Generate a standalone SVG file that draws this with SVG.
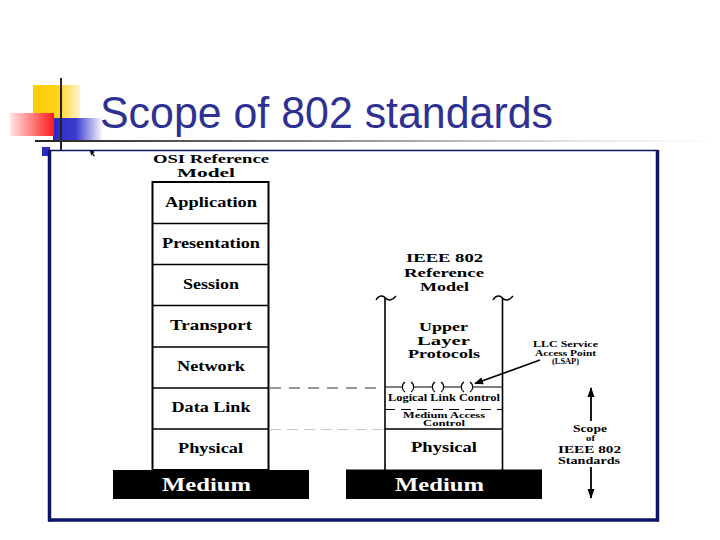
<svg xmlns="http://www.w3.org/2000/svg" width="720" height="540" viewBox="0 0 720 540">
  <defs>
    <linearGradient id="gYellow" x1="0" y1="0" x2="1" y2="0">
      <stop offset="0" stop-color="#ffcc00"/>
      <stop offset="0.5" stop-color="#ffd21a"/>
      <stop offset="1" stop-color="#fff4cc"/>
    </linearGradient>
    <linearGradient id="gRed" x1="0" y1="0" x2="1" y2="0">
      <stop offset="0" stop-color="#ffe4e4"/>
      <stop offset="1" stop-color="#ff1a1a"/>
    </linearGradient>
    <linearGradient id="gBlue" x1="0" y1="0" x2="1" y2="0">
      <stop offset="0" stop-color="#2a2ac0"/>
      <stop offset="0.45" stop-color="#3b3bd0"/>
      <stop offset="1" stop-color="#ffffff"/>
    </linearGradient>
    <linearGradient id="gRule" x1="0" y1="0" x2="1" y2="0">
      <stop offset="0" stop-color="#222222"/>
      <stop offset="0.35" stop-color="#777777"/>
      <stop offset="0.8" stop-color="#e6e6e6"/>
      <stop offset="1" stop-color="#ffffff"/>
    </linearGradient>
    <marker id="arrowHead" viewBox="0 0 10 10" refX="9" refY="5" markerWidth="9" markerHeight="9" markerUnits="userSpaceOnUse" orient="auto">
      <path d="M0,1 L10,5 L0,9 Z" fill="#000"/>
    </marker>
    <marker id="arrowHeadV" viewBox="0 0 10 10" refX="9" refY="5" markerWidth="10" markerHeight="10" markerUnits="userSpaceOnUse" orient="auto">
      <path d="M0,1.5 L10,5 L0,8.5 Z" fill="#000"/>
    </marker>
  </defs>
  <style>
    .lbl { font-family: "Liberation Serif", "Times New Roman", serif; font-weight: bold; fill: #000; text-anchor: middle; }
    .med { font-family: "Liberation Serif", "Times New Roman", serif; font-weight: bold; fill: #fff; text-anchor: middle; font-size: 19px; }
    .box { fill: #fff; stroke: #000; stroke-width: 2; }
    .sep { stroke: #000; stroke-width: 1.6; }
    .bar { fill: #000; }
    .frame { stroke: #0c1464; fill: none; }
  </style>

  <rect x="0" y="0" width="720" height="540" fill="#ffffff"/>

  <!-- logo -->
  <g id="logo">
    <rect x="33" y="85" width="47" height="34" fill="url(#gYellow)"/>
    <rect x="53" y="118" width="50" height="23" fill="url(#gBlue)"/>
    <rect x="10" y="113" width="44" height="23" fill="url(#gRed)"/>
    <rect x="42" y="147" width="8" height="9" fill="#2a2ac0"/>
    <line x1="61" y1="78" x2="61" y2="150" stroke="#222" stroke-width="2"/>
    <rect x="35" y="140" width="685" height="2" fill="url(#gRule)"/>
  </g>

  <text x="100" y="128" font-family="Liberation Sans, Arial, sans-serif" font-size="44" fill="#2e3192" textLength="453" lengthAdjust="spacingAndGlyphs">Scope of 802 standards</text>

  <!-- frame -->
  <g id="frame">
    <line class="frame" x1="49" y1="150.5" x2="658" y2="150.5" stroke-width="1.5"/>
    <line class="frame" x1="49.5" y1="150" x2="49.5" y2="521.5" stroke-width="3.5"/>
    <line class="frame" x1="657.5" y1="150" x2="657.5" y2="521.5" stroke-width="3.5"/>
    <line class="frame" x1="48" y1="520" x2="659" y2="520" stroke-width="3.5"/>
    <path d="M90,150 L95,152 L93,153 L95,156 L94,156.5 L92,154 L91,156 Z" fill="#000"/>
  </g>

  <!-- OSI model -->
  <g id="osi-model">
    <text class="lbl" x="211" y="163" font-size="13" textLength="116" lengthAdjust="spacingAndGlyphs">OSI Reference</text>
    <text class="lbl" x="206" y="176.5" font-size="13" textLength="58" lengthAdjust="spacingAndGlyphs">Model</text>
    <rect class="box" x="152.5" y="182" width="116" height="288"/>
    <line class="sep" x1="152.5" y1="223.5" x2="268.5" y2="223.5"/>
    <line class="sep" x1="152.5" y1="264.5" x2="268.5" y2="264.5"/>
    <line class="sep" x1="152.5" y1="305.5" x2="268.5" y2="305.5"/>
    <line class="sep" x1="152.5" y1="347" x2="268.5" y2="347"/>
    <line class="sep" x1="152.5" y1="388" x2="268.5" y2="388"/>
    <line class="sep" x1="152.5" y1="429" x2="268.5" y2="429"/>
    <text class="lbl" x="211" y="207" font-size="14" textLength="92" lengthAdjust="spacingAndGlyphs">Application</text>
    <text class="lbl" x="211" y="248" font-size="14" textLength="98" lengthAdjust="spacingAndGlyphs">Presentation</text>
    <text class="lbl" x="211" y="289" font-size="14" textLength="56" lengthAdjust="spacingAndGlyphs">Session</text>
    <text class="lbl" x="211" y="330" font-size="14" textLength="82" lengthAdjust="spacingAndGlyphs">Transport</text>
    <text class="lbl" x="211" y="371" font-size="14" textLength="68" lengthAdjust="spacingAndGlyphs">Network</text>
    <text class="lbl" x="211" y="412" font-size="14" textLength="79" lengthAdjust="spacingAndGlyphs">Data Link</text>
    <text class="lbl" x="210.5" y="453" font-size="14" textLength="65" lengthAdjust="spacingAndGlyphs">Physical</text>
  </g>

  <g id="medium-left">
    <rect class="bar" x="113" y="470" width="196" height="29"/>
    <text class="med" x="206.5" y="491" textLength="89" lengthAdjust="spacingAndGlyphs">Medium</text>
  </g>

  <!-- IEEE 802 model -->
  <g id="ieee-model">
    <text class="lbl" x="444.5" y="262" font-size="13" textLength="77" lengthAdjust="spacingAndGlyphs">IEEE 802</text>
    <text class="lbl" x="444" y="276.5" font-size="13" textLength="80" lengthAdjust="spacingAndGlyphs">Reference</text>
    <text class="lbl" x="444.5" y="290.5" font-size="13" textLength="49" lengthAdjust="spacingAndGlyphs">Model</text>
    <line x1="385" y1="298" x2="385" y2="470" stroke="#000" stroke-width="1.6"/>
    <line x1="502.5" y1="298" x2="502.5" y2="470" stroke="#000" stroke-width="1.6"/>
    <path d="M376,300 C379,295 383,295 385.5,298 C388,301 392,301 396,296" fill="none" stroke="#000" stroke-width="1.4"/>
    <path d="M493,300 C496,295 500,295 502.5,298 C505,301 509,301 513,296" fill="none" stroke="#000" stroke-width="1.4"/>
    <text class="lbl" x="443.5" y="331" font-size="13" textLength="49" lengthAdjust="spacingAndGlyphs">Upper</text>
    <text class="lbl" x="443.5" y="344.5" font-size="13" textLength="53" lengthAdjust="spacingAndGlyphs">Layer</text>
    <text class="lbl" x="444" y="358" font-size="13" textLength="72" lengthAdjust="spacingAndGlyphs">Protocols</text>
    <!-- LSAP line with service access points -->
    <g fill="none" stroke="#000" stroke-width="1.2">
      <path d="M385,387 H403 M413,387 H433 M443,387 H462 M472,387 H502"/>
      <path d="M405,382 A6,6 0 0,0 405,392"/>
      <path d="M411,382 A6,6 0 0,1 411,392"/>
      <path d="M435,382 A6,6 0 0,0 435,392"/>
      <path d="M441,382 A6,6 0 0,1 441,392"/>
      <path d="M464,382 A6,6 0 0,0 464,392"/>
      <path d="M470,382 A6,6 0 0,1 470,392"/>
    </g>
    <text class="lbl" x="444" y="401" font-size="10" textLength="112" lengthAdjust="spacingAndGlyphs">Logical Link Control</text>
    <line x1="385" y1="409.5" x2="502" y2="409.5" stroke="#000" stroke-width="1.2" stroke-dasharray="10,6"/>
    <text class="lbl" x="444" y="417.5" font-size="8" textLength="82" lengthAdjust="spacingAndGlyphs">Medium Access</text>
    <text class="lbl" x="444" y="426" font-size="8" textLength="42" lengthAdjust="spacingAndGlyphs">Control</text>
    <line class="sep" x1="385" y1="429" x2="502.5" y2="429"/>
    <text class="lbl" x="444" y="452" font-size="15.5" textLength="66" lengthAdjust="spacingAndGlyphs">Physical</text>
  </g>

  <g id="medium-right">
    <rect class="bar" x="346" y="469.5" width="196" height="29.5"/>
    <text class="med" x="439.5" y="491" textLength="89" lengthAdjust="spacingAndGlyphs">Medium</text>
  </g>

  <g id="lsap-label">
    <text class="lbl" x="565.5" y="347" font-size="8.5" textLength="65" lengthAdjust="spacingAndGlyphs">LLC Service</text>
    <text class="lbl" x="565.5" y="355.5" font-size="8.5" textLength="61" lengthAdjust="spacingAndGlyphs">Access Point</text>
    <text class="lbl" x="565.5" y="364" font-size="8.5" textLength="27" lengthAdjust="spacingAndGlyphs">(LSAP)</text>
  </g>

  <g id="scope-label">
    <text class="lbl" x="590" y="432" font-size="10" textLength="34" lengthAdjust="spacingAndGlyphs">Scope</text>
    <text class="lbl" x="590.5" y="441" font-size="8" textLength="9" lengthAdjust="spacingAndGlyphs">of</text>
    <text class="lbl" x="589.5" y="453" font-size="10" textLength="63" lengthAdjust="spacingAndGlyphs">IEEE 802</text>
    <text class="lbl" x="589" y="463.5" font-size="10" textLength="62" lengthAdjust="spacingAndGlyphs">Standards</text>
  </g>

  <!-- connectors -->
  <g id="connectors" fill="none">
    <line x1="270" y1="388" x2="384" y2="388" stroke="#333" stroke-width="1.2" stroke-dasharray="11,8"/>
    <line x1="270" y1="429.5" x2="384" y2="429.5" stroke="#c8c8c8" stroke-width="1" stroke-dasharray="11,6"/>
    <line x1="540" y1="360" x2="475" y2="383.5" stroke="#000" stroke-width="1.6" marker-end="url(#arrowHead)"/>
    <line x1="591" y1="421" x2="591" y2="388" stroke="#000" stroke-width="1.8" marker-end="url(#arrowHeadV)"/>
    <line x1="591" y1="467" x2="591" y2="498" stroke="#000" stroke-width="1.8" marker-end="url(#arrowHeadV)"/>
  </g>
</svg>
